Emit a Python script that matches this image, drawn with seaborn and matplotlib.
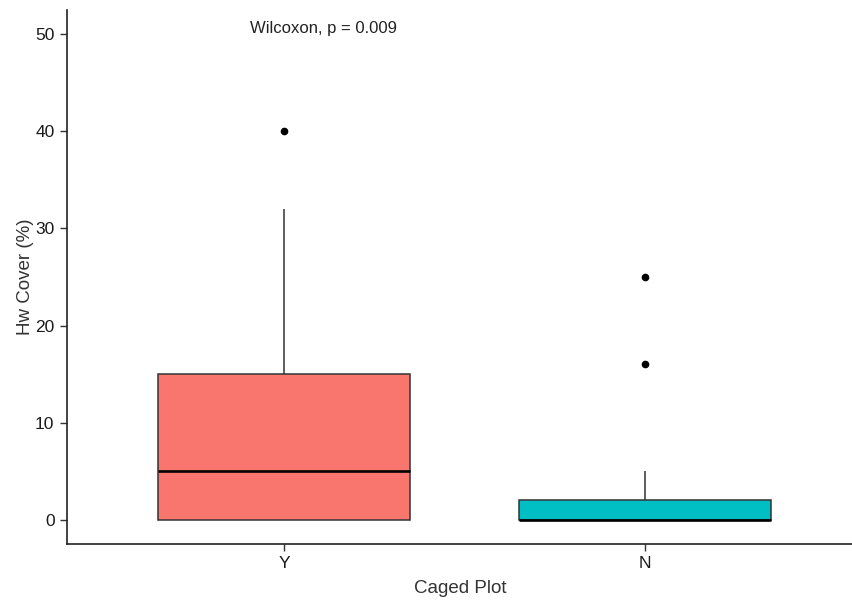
import matplotlib
matplotlib.use("Agg")
import matplotlib.pyplot as plt
import seaborn as sns
import pandas as pd

# Data (individual plot observations estimated from the boxplot summary)
caged_Y = [0, 0, 0, 0, 2, 5, 5, 8, 15, 15, 20, 32, 40]
caged_N = [0, 0, 0, 0, 0, 0, 0, 1, 2, 2, 5, 16, 25]
categories = ["Y", "N"]
colors = ["#F8766D", "#00BFC4"]
yticks = [0, 10, 20, 30, 40, 50]
annotation = "Wilcoxon, p = 0.009"

df = pd.DataFrame({
    "Caged Plot": ["Y"] * len(caged_Y) + ["N"] * len(caged_N),
    "Hw Cover (%)": caged_Y + caged_N,
})

sns.set_style("white")
plt.rcParams["font.family"] = ["Liberation Sans", "DejaVu Sans"]

fig = plt.figure(figsize=(8.53, 6.0), dpi=100)
ax = fig.add_axes([67 / 853, 1 - 544 / 600, (853 - 67) / 853, 534 / 600])

sns.boxplot(
    data=df, x="Caged Plot", y="Hw Cover (%)", hue="Caged Plot",
    order=categories, hue_order=categories, palette=colors, legend=False,
    saturation=1, width=0.7, linecolor="#333333", linewidth=1.1, showcaps=False,
    whis=1.5,
    flierprops=dict(marker="o", markerfacecolor="black", markeredgecolor="black", markersize=4.5),
    medianprops=dict(color="black", linewidth=1.9),
    ax=ax,
)

ax.set_ylim(-2.5, 52.5)
ax.set_xlim(-0.601, 1.576)
ax.set_yticks(yticks)
ax.set_yticklabels([str(t) for t in yticks])

for side in ["top", "right"]:
    ax.spines[side].set_visible(False)
for side in ["left", "bottom"]:
    ax.spines[side].set_visible(True)
    ax.spines[side].set_color("#222222")
    ax.spines[side].set_linewidth(1.2)

ax.tick_params(axis="both", which="major", direction="out", length=5, width=1.0,
               color="#333333", labelsize=12.5, labelcolor="#1a1a1a",
               bottom=True, left=True, pad=4)

ax.set_xlabel("Caged Plot", fontsize=13.5, color="#333333", labelpad=6)
ax.set_ylabel("Hw Cover (%)", fontsize=13.5, color="#333333", labelpad=1)

ax.text(-0.094, 50.6, annotation, ha="left", va="center", fontsize=12, color="#222222")

fig.savefig("out.png", dpi=100)
